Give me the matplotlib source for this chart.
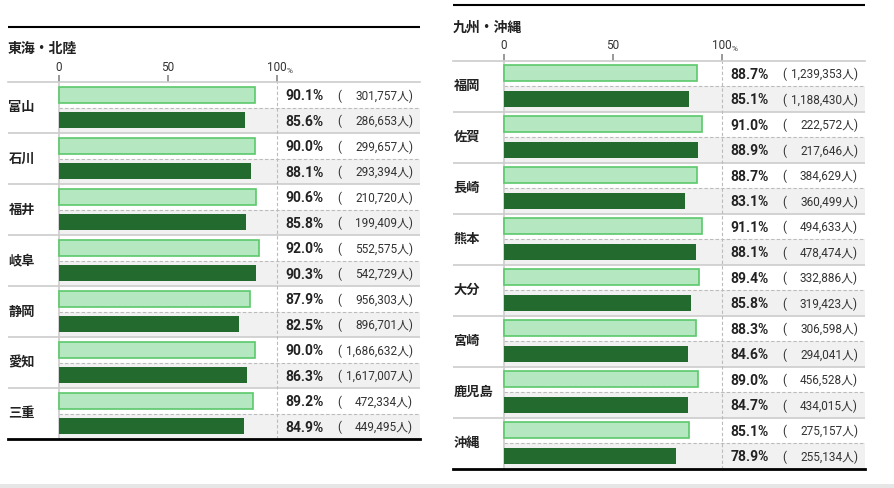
import matplotlib
matplotlib.use("Agg")
import matplotlib.pyplot as plt
from matplotlib.patches import Rectangle
from matplotlib import font_manager

plt.rcParams["font.family"] = ["Roboto", "Noto Sans CJK JP", "DejaVu Sans"]

# data
left_title = "東海・北陸"
left_prefs = ["富山", "石川", "福井", "岐阜", "静岡", "愛知", "三重"]
left_pct_a = [90.1, 90.0, 90.6, 92.0, 87.9, 90.0, 89.2]
left_pct_b = [85.6, 88.1, 85.8, 90.3, 82.5, 86.3, 84.9]
left_num_a = [301757, 299657, 210720, 552575, 956303, 1686632, 472334]
left_num_b = [286653, 293394, 199409, 542729, 896701, 1617007, 449495]

right_title = "九州・沖縄"
right_prefs = ["福岡", "佐賀", "長崎", "熊本", "大分", "宮崎", "鹿児島", "沖縄"]
right_pct_a = [88.7, 91.0, 88.7, 91.1, 89.4, 88.3, 89.0, 85.1]
right_pct_b = [85.1, 88.9, 83.1, 88.1, 85.8, 84.6, 84.7, 78.9]
right_num_a = [1239353, 222572, 384629, 494633, 332886, 306598, 456528, 275157]
right_num_b = [1188430, 217646, 360499, 478474, 319423, 294041, 434015, 255134]

ticks = [0, 50, 100]
tick_labels = ["0", "50", "100"]

LIGHT = "#b5e8c0"
LIGHT_EDGE = "#5cc86b"
DARK = "#226a2d"
GRID = "#cccccc"
BAND = "#f1f1f1"
TXT = "#222222"

# narrow font for the figures if it is there
names = {f.name for f in font_manager.fontManager.ttflist}
NUM_FONT = ["Liberation Sans Narrow"] if "Liberation Sans Narrow" in names else ["Roboto"]
NUM_FONT = NUM_FONT + ["Noto Sans CJK JP"]

W, H = 895, 488
PANEL_W = 412
ZERO_OFF = 50.7   # px from panel left to 0%
PX_PER = 2.18     # px per percent
ROW_PX = 25.5

fig = plt.figure(figsize=(W / 100, H / 100), dpi=100)
fig.add_artist(Rectangle((0, 0), 1, 4 / H, transform=fig.transFigure,
                         color="#e6e6e6", lw=0))


def panel(x0, y_top, title, prefs, pa, pb, na, nb):
    n = len(prefs)
    h_px = n * 2 * ROW_PX
    ax = fig.add_axes([x0 / W, 1 - (y_top + h_px) / H, PANEL_W / W, h_px / H])
    xmin = -ZERO_OFF / PX_PER
    xmax = (PANEL_W - ZERO_OFF) / PX_PER
    ax.set_xlim(xmin, xmax)
    ax.set_ylim(2 * n, 0)
    zero_frac = ZERO_OFF / PANEL_W

    for s in ["left", "right"]:
        ax.spines[s].set_visible(False)
    ax.spines["top"].set_color(GRID)
    ax.spines["top"].set_linewidth(1.2)
    ax.spines["bottom"].set_color("black")
    ax.spines["bottom"].set_linewidth(2)

    ax.xaxis.tick_top()
    ax.set_xticks(ticks)
    ax.set_xticklabels(tick_labels, fontsize=8.5, color="#333333")
    ax.tick_params(axis="x", direction="out", length=5, width=1.2,
                   color="#888888", pad=1)
    ax.set_yticks([])
    ax.text(100 + 10 / PX_PER, -0.45, "%", fontsize=6, color="#333333",
            ha="left", va="center")

    for i in range(n):
        ax.axhspan(2 * i + 1, 2 * i + 2, xmin=zero_frac, xmax=1,
                   color=BAND, lw=0, zorder=0)
        ax.hlines(2 * i + 1, 0, xmax, colors="#bbbbbb", linestyles=(0, (3, 2)),
                  lw=0.8, zorder=1)
        if i > 0:
            ax.axhline(2 * i, color=GRID, lw=1.2, zorder=1)
        ax.text(xmin + 0.2, 2 * i + 1, prefs[i], fontsize=9.5, fontweight="bold",
                family=["Noto Sans CJK JP"], color=TXT, ha="left", va="center")

    ax.axvline(0, color=GRID, lw=1.2, zorder=1)
    ax.axvline(100, color="#bbbbbb", lw=0.8, ls=(0, (3, 2)), zorder=1)

    ya = [2 * i + 0.5 for i in range(n)]
    yb = [2 * i + 1.5 for i in range(n)]
    ax.barh(ya, pa, height=0.62, color=LIGHT, edgecolor=LIGHT_EDGE, lw=1.2,
            zorder=2)
    ax.barh(yb, pb, height=0.62, color=DARK, lw=0, zorder=2)

    px = 100 + 8.5 / PX_PER
    p0 = 128.0
    p1 = 162.5
    for ys, pv, nv in [(ya, pa, na), (yb, pb, nb)]:
        for y, p, v in zip(ys, pv, nv):
            ax.text(px, y + 0.05, f"{p:.1f}%", fontsize=10, fontweight="bold",
                    family=NUM_FONT, color=TXT, ha="left", va="center")
            ax.text(p0, y + 0.05, "(", fontsize=8.5, color="#333333",
                    family=NUM_FONT, ha="left", va="center")
            ax.text(p1, y + 0.05, f"{v:,}人)", fontsize=8.5, color="#333333",
                    family=NUM_FONT, ha="right", va="center")

    ax.text(xmin, -1.3, title, fontsize=10, fontweight="bold",
            family=["Noto Sans CJK JP"], color=TXT, ha="left", va="center")
    ax.plot([xmin, xmax], [-2.16, -2.16], color="black", lw=1.5,
            clip_on=False, solid_capstyle="butt")
    return ax


panel(8, 82, left_title, left_prefs, left_pct_a, left_pct_b,
      left_num_a, left_num_b)
panel(453, 60.5, right_title, right_prefs, right_pct_a, right_pct_b,
      right_num_a, right_num_b)

fig.savefig("out.png", dpi=100)
